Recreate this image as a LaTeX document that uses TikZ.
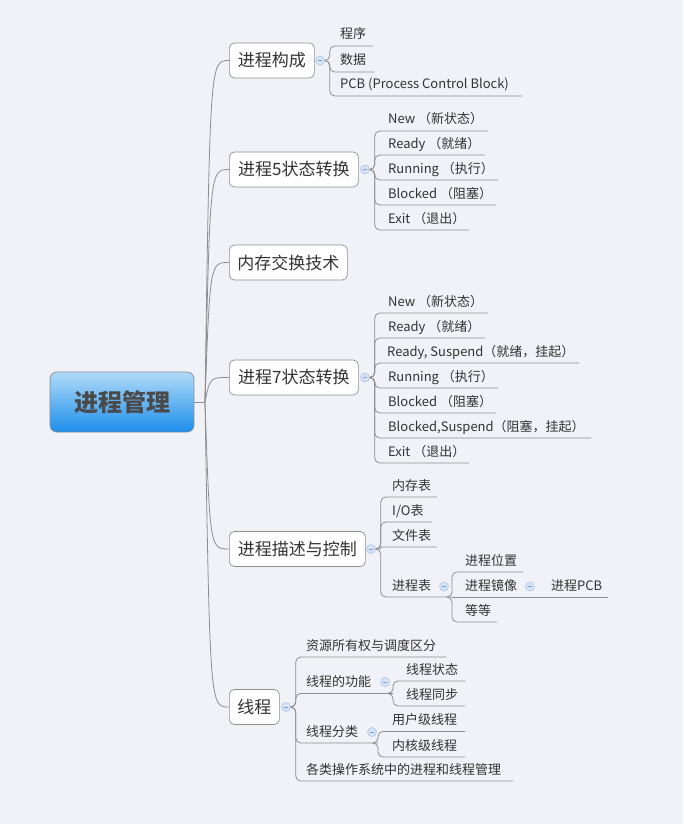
\documentclass[tikz,border=0pt]{standalone}
\usepackage{fontspec}
\setmainfont{Noto Sans CJK SC}
\definecolor{bgc}{HTML}{F1F2F7}
\definecolor{linegray}{HTML}{8E8E8E}
\definecolor{boxgray}{HTML}{8F8F8F}
\definecolor{txt}{HTML}{333333}
\definecolor{cfill}{HTML}{D5E3F7}
\definecolor{cborder}{HTML}{A7BFE6}
\definecolor{cminus}{HTML}{7C9DD6}
\definecolor{roottop}{HTML}{B0DBF8}
\definecolor{rootbot}{HTML}{1D8EEB}
\definecolor{rootborder}{HTML}{7F8E9C}
\definecolor{roottext}{HTML}{4A4A4A}
\tikzset{
  conn/.style={draw=linegray, line width=0.8pt, rounded corners=5pt},
  trunk/.style={draw=linegray, line width=0.8pt},
  topic/.style={draw=boxgray, fill=white, rounded corners=5pt, minimum height=35pt,
    inner xsep=4pt, anchor=west, font=\fontsize{17}{20}\selectfont, text=txt, line width=0.7pt},
  leaf/.style={anchor=base west, inner sep=0pt, font=\fontsize{13}{15}\selectfont, text=txt},
  collapse/.style={circle, minimum size=9pt, inner sep=0pt, fill=cfill, draw=cborder, line width=0.5pt,
    path picture={\draw[cminus, line width=0.6pt] ([xshift=-2.2pt]path picture bounding box.center) -- ([xshift=2.2pt]path picture bounding box.center);}},
  rootbox/.style={rounded corners=7pt, top color=roottop, bottom color=rootbot, draw=rootborder, line width=0.7pt,
    minimum width=144pt, minimum height=60pt, font=\fontsize{24}{28}\selectfont\bfseries, text=roottext}
}
\begin{document}
\begin{tikzpicture}[x=1pt,y=-1pt]
\fill[bgc] (0,0) rectangle (683,824);
\useasboundingbox (0,0) rectangle (683,824);

% root
\node[rootbox] (root) at (122,402) {进程管理};
\coordinate (hub) at (205,402);
\draw[trunk] (root.east) -- (hub);

% top-level topics
\node[topic, minimum width=85pt]  (t1) at (229,60.5)  {进程构成};
\node[topic, minimum width=129pt] (t2) at (229,169.5) {进程5状态转换};
\node[topic, minimum width=118pt] (t3) at (229,262.5) {内存交换技术};
\node[topic, minimum width=129pt] (t4) at (229,377.5) {进程7状态转换};
\node[topic, minimum width=136pt] (t5) at (229,549)   {进程描述与控制};
\node[topic, minimum width=50pt]  (t6) at (229,707)   {线程};

\draw[trunk] (hub) .. controls (210,60.5)  .. (t1.west);
\draw[trunk] (hub) .. controls (210,169.5) .. (t2.west);
\draw[trunk] (hub) .. controls (210,262.5) .. (t3.west);
\draw[trunk] (hub) .. controls (210,377.5) .. (t4.west);
\draw[trunk] (hub) .. controls (210,549)   .. (t5.west);
\draw[trunk] (hub) .. controls (210,707)   .. (t6.west);

% collapse markers
\node[collapse] (c1) at (320,60.5) {};
\node[collapse] (c2) at (365,169.5) {};
\node[collapse] (c4) at (365,377.5) {};
\node[collapse] (c5) at (371,549) {};
\node[collapse] (c6) at (286,707) {};

% ---- t1 children
\coordinate (u11) at (373,46);
\coordinate (u12) at (374,72);
\coordinate (u13) at (522,96);
\node[leaf] (n11) at (340,39) {程序};
\node[leaf] (n12) at (340,65) {数据};
\node[leaf] (n13) at (340,89) {PCB (Process Control Block)};
\draw[conn] (c1.east) -- ++(5,0) |- (u11);
\draw[conn] (c1.east) -- ++(5,0) |- (u12);
\draw[conn] (c1.east) -- ++(5,0) |- (u13);

% ---- t2 children
\coordinate (u21) at (488,131);
\coordinate (u22) at (485,155);
\coordinate (u23) at (498,180);
\coordinate (u24) at (496,205);
\coordinate (u25) at (469,230);
\node[leaf] (n21) at (388,124) {New （新状态）};
\node[leaf] (n22) at (388,148) {Ready （就绪）};
\node[leaf] (n23) at (388,173) {Running （执行）};
\node[leaf] (n24) at (388,198) {Blocked （阻塞）};
\node[leaf] (n25) at (388,223) {Exit （退出）};
\foreach \u in {u21,u22,u23,u24,u25}
  \draw[conn] (c2.east) -- ++(5,0) |- (\u);

% ---- t4 children
\coordinate (u41) at (488,313);
\coordinate (u42) at (485,338);
\coordinate (u43) at (579,363);
\coordinate (u44) at (498,388);
\coordinate (u45) at (496,413);
\coordinate (u46) at (591,438);
\coordinate (u47) at (469,463);
\node[leaf] (n41) at (388,306) {New （新状态）};
\node[leaf] (n42) at (388,331) {Ready （就绪）};
\node[leaf] (n43) at (387,356) {Ready, Suspend（就绪，挂起）};
\node[leaf] (n44) at (388,381) {Running （执行）};
\node[leaf] (n45) at (388,406) {Blocked （阻塞）};
\node[leaf] (n46) at (388,431) {Blocked,Suspend（阻塞，挂起）};
\node[leaf] (n47) at (388,456) {Exit （退出）};
\foreach \u in {u41,u42,u43,u44,u45,u46,u47}
  \draw[conn] (c4.east) -- ++(5,0) |- (\u);

% ---- t5 children
\coordinate (u51) at (437,497);
\coordinate (u52) at (432,522);
\coordinate (u53) at (437,547);
\coordinate (j54) at (452,597);
\node[leaf] (n51) at (392,490) {内存表};
\node[leaf] (n52) at (392,515) {I/O表};
\node[leaf] (n53) at (392,540) {文件表};
\node[leaf] (n54) at (392,590) {进程表};
\node[collapse] (c54) at (444,586.5) {};
\draw[conn] (c5.east) -- ++(5,0) |- (u51);
\draw[conn] (c5.east) -- ++(5,0) |- (u52);
\draw[conn, rounded corners=1pt] (c5.east) -- ++(5,0) |- (u53);
\draw[conn] (c5.east) -- ++(5,0) |- (j54);

\coordinate (u541) at (523,572);
\coordinate (u542) at (525,597);
\coordinate (u543) at (497,622);
\node[leaf] (n541) at (465,565) {进程位置};
\node[leaf] (n542) at (465,590) {进程镜像};
\node[leaf] (n543) at (465,615) {等等};
\node[collapse] (c542) at (530,586.5) {};
\draw[conn] ([xshift=-5pt]j54) -- (j54) |- (u541);
\draw[conn] (j54) -- (u542);
\draw[conn] ([xshift=-5pt]j54) -- (j54) |- (u543);

\coordinate (u5421) at (608,597);
\node[leaf] (n5421) at (551,590) {进程PCB};
\draw[conn] (u542) -- (u5421);

% ---- t6 children
\coordinate (u61) at (446,657);
\coordinate (j62) at (393,693.5);
\coordinate (j63) at (378,743);
\coordinate (u64) at (513,781);
\node[leaf] (n61) at (306,650) {资源所有权与调度区分};
\node[leaf] (n62) at (306,686.5) {线程的功能};
\node[leaf] (n63) at (306,736) {线程分类};
\node[leaf] (n64) at (306,774) {各类操作系统中的进程和线程管理};
\node[collapse] (c62) at (385,682) {};
\node[collapse] (c63) at (372,732) {};
\draw[conn] (c6.east) -- ++(5,0) |- (u61);
\draw[conn] (c6.east) -- ++(5,0) |- (j62);
\draw[conn] (c6.east) -- ++(5,0) |- (j63);
\draw[conn] (c6.east) -- ++(5,0) |- (u64);

\coordinate (u621) at (465,681);
\coordinate (u622) at (465,706);
\node[leaf] (n621) at (406,674) {线程状态};
\node[leaf] (n622) at (406,699) {线程同步};
\draw[conn] ([xshift=-5pt]j62) -- (j62) |- (u621);
\draw[conn] ([xshift=-5pt]j62) -- (j62) |- (u622);

\coordinate (u631) at (465,731.5);
\coordinate (u632) at (465,757);
\node[leaf] (n631) at (392,724.5) {用户级线程};
\node[leaf] (n632) at (392,750) {内核级线程};
\draw[conn] ([xshift=-5pt]j63) -- (j63) |- (u631);
\draw[conn] ([xshift=-5pt]j63) -- (j63) |- (u632);
\end{tikzpicture}
\end{document}
